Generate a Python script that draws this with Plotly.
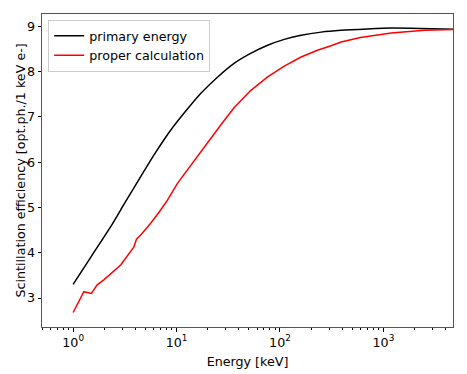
import plotly.graph_objects as go

# valores (energia em keV)
energy_primary = [1.0, 1.5, 2.3, 3.2, 4.5, 6.3, 8.8, 12, 17.2, 25, 36, 52, 76, 110, 160, 250, 390, 700, 1190, 2300, 5000]
eff_primary = [3.30, 3.92, 4.57, 5.12, 5.68, 6.22, 6.71, 7.10, 7.52, 7.88, 8.18, 8.40, 8.58, 8.71, 8.80, 8.87, 8.91, 8.94, 8.96, 8.95, 8.93]

energy_proper = [1.0, 1.27, 1.50, 1.71, 1.98, 2.88, 3.87, 4.10, 4.50, 5.62, 6.8, 8.17, 10.2, 13.7, 17.2, 21.5, 28, 36, 52, 76,
                 110, 160, 230, 312, 390, 600, 1190, 2500, 5000]
eff_proper = [2.68, 3.14, 3.10, 3.29, 3.40, 3.73, 4.13, 4.30, 4.39, 4.65, 4.90, 5.16, 5.53, 5.93, 6.23, 6.52, 6.88, 7.20, 7.58, 7.88,
              8.12, 8.32, 8.47, 8.57, 8.65, 8.75, 8.85, 8.91, 8.93]

x_tickvals = [1, 10, 100, 1000]
x_ticktext = ['10<sup>0</sup>', '10<sup>1</sup>', '10<sup>2</sup>', '10<sup>3</sup>']
y_tickvals = [3, 4, 5, 6, 7, 8, 9]

fig = go.Figure()
fig.add_trace(go.Scatter(x=energy_primary, y=eff_primary, mode='lines', name='primary energy',
                         line=dict(color='black', width=1.5, shape='spline', smoothing=0.6)))
fig.add_trace(go.Scatter(x=energy_proper, y=eff_proper, mode='lines', name='proper calculation',
                         line=dict(color='red', width=1.5)))

# a página tem margem de 8px no body, por isso a figura é um pouco menor
axis_font = dict(family='DejaVu Sans', size=12.7, color='black')
fig.update_layout(
    width=459, height=366,
    margin=dict(l=34, r=14, t=6, b=47),
    plot_bgcolor='white', paper_bgcolor='white',
    font=axis_font,
    showlegend=True,
    legend=dict(x=0.015, y=0.981, xanchor='left', yanchor='top', bgcolor='white',
                bordercolor='#cccccc', borderwidth=1, font=axis_font,
                itemwidth=30, tracegroupgap=0),
)
fig.update_xaxes(type='log', range=[-0.301, 3.673], tickvals=x_tickvals, ticktext=x_ticktext,
                 ticks='outside', ticklen=3.5, tickcolor='black', showgrid=False, zeroline=False,
                 showline=True, linecolor='#555555', linewidth=1, mirror=True, automargin=False,
                 minor=dict(ticks='outside', ticklen=2, tickcolor='black', dtick='D1', showgrid=False),
                 title=dict(text='Energy [keV]', standoff=8, font=axis_font), tickfont=axis_font)
fig.update_yaxes(range=[2.36, 9.27], tickvals=y_tickvals, automargin=False,
                 ticks='outside', ticklen=3.5, tickcolor='black', showgrid=False, zeroline=False,
                 showline=True, linecolor='#555555', linewidth=1, mirror=True,
                 tickfont=axis_font)

# título do eixo y como anotação para controlar a posição
fig.add_annotation(text='Scintillation efficiency [opt.ph./1 keV e-]', xref='paper', yref='paper',
                   x=0, y=0.5, xanchor='center', yanchor='middle', xshift=-22, textangle=-90,
                   showarrow=False, font=axis_font)

fig.write_html('out.html')
